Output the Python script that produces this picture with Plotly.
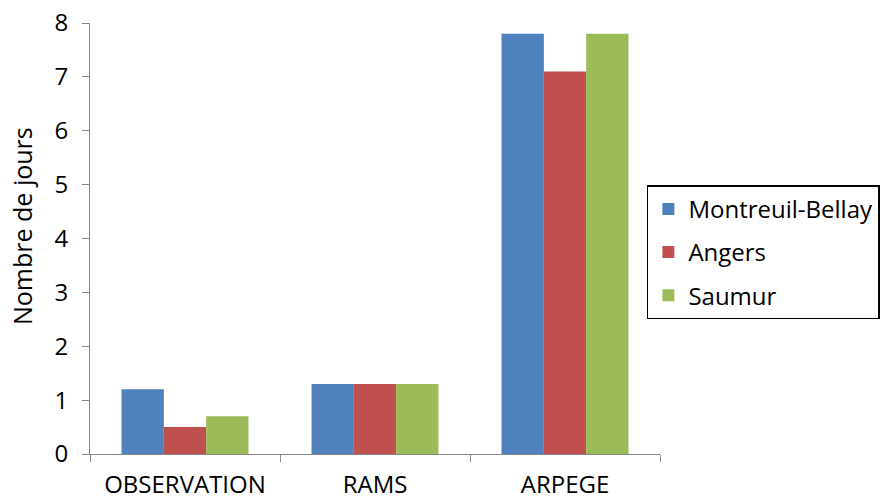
import plotly.graph_objects as go

categories = ["OBSERVATION", "RAMS", "ARPEGE"]
series_names = ["Montreuil-Bellay", "Angers", "Saumur"]
montreuil = [1.2, 1.3, 7.8]
angers = [0.5, 1.3, 7.1]
saumur = [0.7, 1.3, 7.8]
colors = ["#4F81BD", "#C0504D", "#9BBB59"]
y_ticks = [0, 1, 2, 3, 4, 5, 6, 7, 8]
y_title = "Nombre de jours"

FONT = "Open Sans"
FS = 24
fig = go.Figure()
for name, vals, col in zip(series_names, [montreuil, angers, saumur], colors):
    fig.add_trace(go.Bar(name=name, x=categories, y=vals, marker_color=col,
                         marker_line_width=0, legendgroup=name))

# page body has an 8px margin: figure is sized to the visible area
fig.update_layout(
    width=881, height=491,
    margin=dict(l=81.5, r=229, t=14.7, b=45, autoexpand=False),
    paper_bgcolor="white", plot_bgcolor="white",
    barmode="group", bargap=0.332, bargroupgap=0,
    font=dict(family=FONT, size=FS, color="#000000"),
    showlegend=True,
    legend=dict(x=0.977, xanchor="left", y=0.468, yanchor="middle",
                bordercolor="#000000", borderwidth=1.5,
                font=dict(family=FONT, size=FS, color="#000000"),
                tracegroupgap=9, traceorder="grouped"),
)
fig.add_annotation(text=y_title, textangle=-90, xref="paper", yref="paper",
                   x=-0.1183, y=0.528, xanchor="center", yanchor="middle",
                   showarrow=False,
                   font=dict(family=FONT, size=25, color="#000000"))
fig.update_xaxes(showline=True, linecolor="#868686", linewidth=1,
                 ticks="outside", tickson="boundaries", ticklen=7,
                 tickcolor="#868686", showgrid=False,
                 tickfont=dict(family=FONT, size=FS, color="#000000"),
                 ticklabelstandoff=9)
fig.update_yaxes(range=[0, 8], tickvals=y_ticks, showline=True,
                 linecolor="#868686", linewidth=1, ticks="outside",
                 ticklen=7, tickcolor="#868686", showgrid=False,
                 zeroline=False, ticklabeloverflow="allow",
                 tickfont=dict(family=FONT, size=FS, color="#000000"),
                 ticklabelstandoff=9)

fig.write_html("out.html")
